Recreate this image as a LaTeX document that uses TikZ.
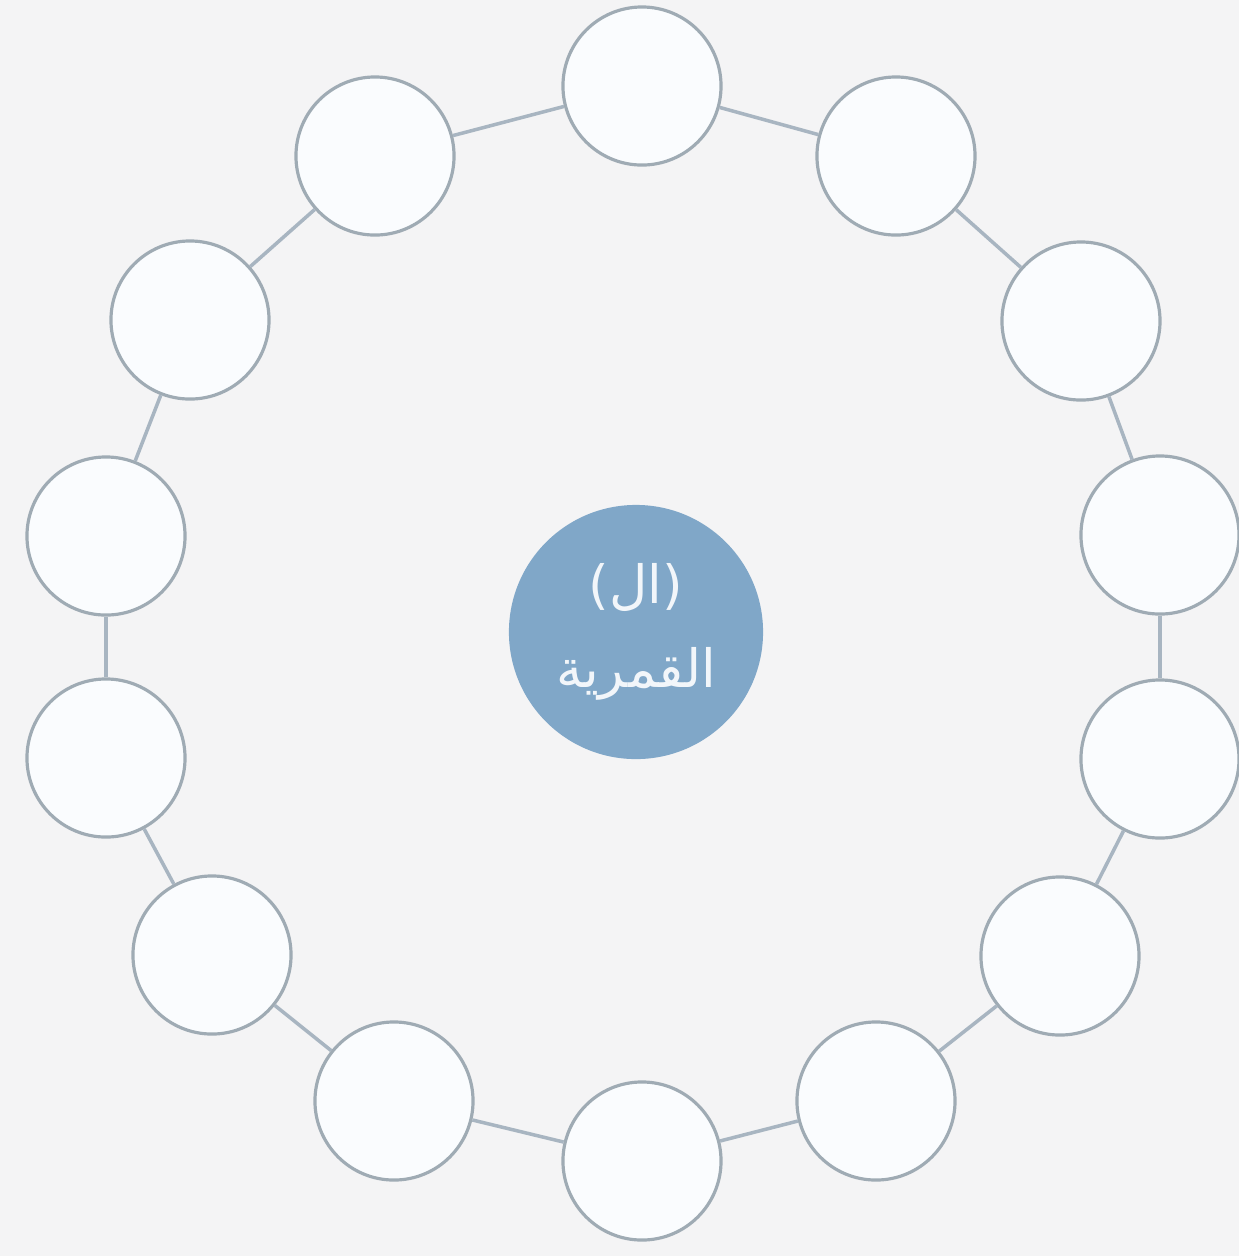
\documentclass[tikz,border=0pt]{standalone}
\usepackage{fontspec}
\usepackage{xcolor}
\usepackage{tikz}
\usetikzlibrary{positioning, calc}
\TeXXeTstate=1
\newfontfamily\arabicfont[Script=Arabic]{DejaVu Sans}

\definecolor{paper}{HTML}{F4F4F5}
\definecolor{ringdraw}{HTML}{9FABB4}
\definecolor{ringfill}{HTML}{FAFCFE}
\definecolor{linkcol}{HTML}{A8B5C1}
\definecolor{hubfill}{HTML}{80A7C8}
\definecolor{hubtext}{HTML}{F2F6FA}

\begin{document}
\begin{tikzpicture}[%
    x=0.01cm, y=-0.01cm,   % one unit = one pixel of the layout
    bead/.style={circle, draw=ringdraw, line width=0.9pt, fill=ringfill,
                 minimum size=1.58cm, inner sep=0pt},
    hub/.style={circle, fill=hubfill, minimum size=2.54cm, inner sep=0pt,
                text=hubtext, align=center,
                font=\arabicfont\fontsize{15}{24}\selectfont},
    link/.style={draw=linkcol, line width=1pt}
]

    % ==========================================
    % 0. Canvas
    % ==========================================
    \fill[paper] (0,0) rectangle (1239,1256);
    \useasboundingbox (0,0) rectangle (1239,1256);

    % ==========================================
    % 1. Beads on the ring (clockwise from top)
    % ==========================================
    \foreach \i/\px/\py in {1/642/86, 2/896/156, 3/1081/321, 4/1160/535,
                            5/1160/759, 6/1060/956, 7/876/1101, 8/642/1161,
                            9/394/1101, 10/212/955, 11/106/758, 12/106/536,
                            13/190/320, 14/375/156}
        \node[bead] (b\i) at (\px,\py) {};

    % ==========================================
    % 2. Hub in the middle
    % ==========================================
    \node[hub] (hub) at (636,632)
        {\beginR (ال)\endR\\ \beginR القمرية\endR};

    % ==========================================
    % 3. Links between neighbouring beads
    % ==========================================
    \foreach \i [remember=\i as \j (initially 14)] in {1,...,14}
        \path (b\j) edge[link] (b\i);

\end{tikzpicture}
\end{document}
